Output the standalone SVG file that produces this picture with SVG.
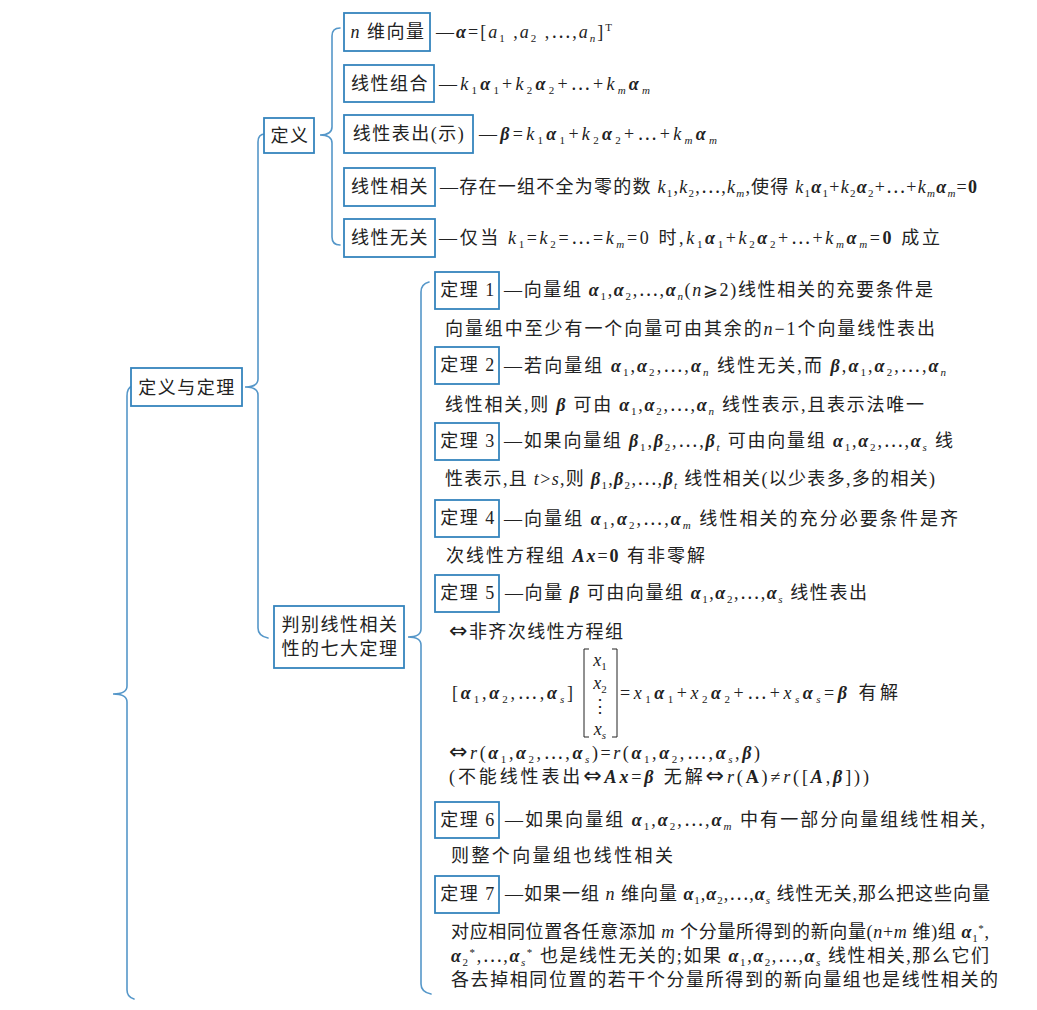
<svg xmlns="http://www.w3.org/2000/svg" width="1037" height="1010" viewBox="0 0 1037 1010">
<style>
.bg{fill:#ffffff}
.box{fill:#ffffff;stroke:#3584bd;stroke-width:1.8}
.br{fill:none;stroke:#5597c9;stroke-width:1.6;stroke-linecap:round}
.t{font-family:"Liberation Serif","Noto Sans CJK SC",serif;font-size:18px;fill:#222}
.lb{font-family:"Liberation Serif","Noto Sans CJK SC",serif;font-size:18px;fill:#222;letter-spacing:1.5px;text-anchor:middle}
.i{font-style:italic}
.v{font-style:italic;font-weight:bold}
.b{font-weight:bold}
.s{font-size:11px}
.si{font-size:11px;font-style:italic}
.sy{font-family:"DejaVu Sans",sans-serif;font-size:22px}
</style>
<rect class="bg" x="0" y="0" width="1037" height="1010"/>

<g id="connectors">
<path class="br" d="M340,28 Q332,28 332,36 L332,127 Q332,135 320,135 Q332,135 332,143 L332,237 Q332,245 340,245"/>
<path class="br" d="M265,134 Q258,134 258,142 L258,379 Q258,387 245,387 Q258,387 258,395 L258,628 Q258,636 268,638"/>
<path class="br" d="M132,386 Q127,388 127,396 L127,686 Q127,694 113,694 Q127,694 127,702 L127,990 Q127,997 134,999"/>
<path class="br" d="M429,282 Q421,284 421,292 L421,629 Q421,637 408,637 Q421,637 421,645 L421,984 Q421,992 431,994"/>
</g>

<g id="node-root">
<rect class="box" x="131" y="368" width="111" height="38"/>
<text class="lb" x="187" y="394">定义与定理</text>
</g>

<g id="node-def">
<rect class="box" x="264" y="118" width="50" height="35"/>
<text class="lb" x="290" y="142">定义</text>
</g>

<g id="node-thm">
<rect class="box" x="274" y="606" width="130" height="62"/>
<text class="lb" x="340" y="631">判别线性相关</text>
<text class="lb" x="340" y="655">性的七大定理</text>
</g>

<g id="node-d1">
<rect class="box" x="344" y="13" width="86" height="38"/>
<text class="lb" x="388" y="38"><tspan class="i">n</tspan> 维向量</text>
<text class="t" x="436" y="38" textLength="176" lengthAdjust="spacing">—<tspan class="v">α</tspan>=[<tspan class="i">a</tspan><tspan class="s" dy="4">1</tspan><tspan dy="-4"> ,</tspan><tspan class="i">a</tspan><tspan class="s" dy="4">2</tspan><tspan dy="-4"> ,⋯,</tspan><tspan class="i">a</tspan><tspan class="si" dy="4">n</tspan><tspan dy="-4">]</tspan><tspan class="s" dy="-7">T</tspan></text>
</g>

<g id="node-d2">
<rect class="box" x="344" y="65" width="90" height="37"/>
<text class="lb" x="390" y="90">线性组合</text>
<text class="t" x="439" y="90" textLength="211" lengthAdjust="spacing">—<tspan class="i">k</tspan><tspan class="s" dy="4">1</tspan><tspan class="v" dy="-4">α</tspan><tspan class="s" dy="4">1</tspan><tspan dy="-4">+</tspan><tspan class="i">k</tspan><tspan class="s" dy="4">2</tspan><tspan class="v" dy="-4">α</tspan><tspan class="s" dy="4">2</tspan><tspan dy="-4">+⋯+</tspan><tspan class="i">k</tspan><tspan class="si" dy="4">m</tspan><tspan class="v" dy="-4">α</tspan><tspan class="si" dy="4">m</tspan></text>
</g>

<g id="node-d3">
<rect class="box" x="344" y="115" width="129" height="38"/>
<text class="lb" x="409" y="140">线性表出(示)</text>
<text class="t" x="479" y="140" textLength="238" lengthAdjust="spacing">—<tspan class="v">β</tspan>=<tspan class="i">k</tspan><tspan class="s" dy="4">1</tspan><tspan class="v" dy="-4">α</tspan><tspan class="s" dy="4">1</tspan><tspan dy="-4">+</tspan><tspan class="i">k</tspan><tspan class="s" dy="4">2</tspan><tspan class="v" dy="-4">α</tspan><tspan class="s" dy="4">2</tspan><tspan dy="-4">+⋯+</tspan><tspan class="i">k</tspan><tspan class="si" dy="4">m</tspan><tspan class="v" dy="-4">α</tspan><tspan class="si" dy="4">m</tspan></text>
</g>

<g id="node-d4">
<rect class="box" x="344" y="168" width="91" height="38"/>
<text class="lb" x="390" y="193">线性相关</text>
<text class="t" x="440" y="193" textLength="537" lengthAdjust="spacing">—存在一组不全为零的数 <tspan class="i">k</tspan><tspan class="s" dy="4">1</tspan><tspan dy="-4">,</tspan><tspan class="i">k</tspan><tspan class="s" dy="4">2</tspan><tspan dy="-4">,⋯,</tspan><tspan class="i">k</tspan><tspan class="si" dy="4">m</tspan><tspan dy="-4">,使得 </tspan><tspan class="i">k</tspan><tspan class="s" dy="4">1</tspan><tspan class="v" dy="-4">α</tspan><tspan class="s" dy="4">1</tspan><tspan dy="-4">+</tspan><tspan class="i">k</tspan><tspan class="s" dy="4">2</tspan><tspan class="v" dy="-4">α</tspan><tspan class="s" dy="4">2</tspan><tspan dy="-4">+⋯+</tspan><tspan class="i">k</tspan><tspan class="si" dy="4">m</tspan><tspan class="v" dy="-4">α</tspan><tspan class="si" dy="4">m</tspan><tspan dy="-4">=</tspan><tspan class="b">0</tspan></text>
</g>

<g id="node-d5">
<rect class="box" x="344" y="219" width="91" height="38"/>
<text class="lb" x="390" y="244">线性无关</text>
<text class="t" x="439" y="244" textLength="501" lengthAdjust="spacing">—仅当 <tspan class="i">k</tspan><tspan class="s" dy="4">1</tspan><tspan dy="-4">=</tspan><tspan class="i">k</tspan><tspan class="s" dy="4">2</tspan><tspan dy="-4">=⋯=</tspan><tspan class="i">k</tspan><tspan class="si" dy="4">m</tspan><tspan dy="-4">=0 时,</tspan><tspan class="i">k</tspan><tspan class="s" dy="4">1</tspan><tspan class="v" dy="-4">α</tspan><tspan class="s" dy="4">1</tspan><tspan dy="-4">+</tspan><tspan class="i">k</tspan><tspan class="s" dy="4">2</tspan><tspan class="v" dy="-4">α</tspan><tspan class="s" dy="4">2</tspan><tspan dy="-4">+⋯+</tspan><tspan class="i">k</tspan><tspan class="si" dy="4">m</tspan><tspan class="v" dy="-4">α</tspan><tspan class="si" dy="4">m</tspan><tspan dy="-4">=</tspan><tspan class="b">0</tspan> 成立</text>
</g>

<g id="node-t1">
<rect class="box" x="435" y="272" width="64" height="37"/>
<text class="lb" x="468" y="296">定理 1</text>
<text class="t" x="504" y="296" textLength="429" lengthAdjust="spacing">—向量组 <tspan class="v">α</tspan><tspan class="s" dy="4">1</tspan><tspan dy="-4">,</tspan><tspan class="v">α</tspan><tspan class="s" dy="4">2</tspan><tspan dy="-4">,⋯,</tspan><tspan class="v">α</tspan><tspan class="si" dy="4">n</tspan><tspan dy="-4">(</tspan><tspan class="i">n</tspan>⩾2)线性相关的充要条件是</text>
<text class="t" x="445" y="335" textLength="490" lengthAdjust="spacing">向量组中至少有一个向量可由其余的<tspan class="i">n</tspan>−1个向量线性表出</text>
</g>

<g id="node-t2">
<rect class="box" x="435" y="347" width="64" height="37"/>
<text class="lb" x="468" y="371">定理 2</text>
<text class="t" x="504" y="372" textLength="442" lengthAdjust="spacing">—若向量组 <tspan class="v">α</tspan><tspan class="s" dy="4">1</tspan><tspan dy="-4">,</tspan><tspan class="v">α</tspan><tspan class="s" dy="4">2</tspan><tspan dy="-4">,⋯,</tspan><tspan class="v">α</tspan><tspan class="si" dy="4">n</tspan><tspan dy="-4"> 线性无关,而 </tspan><tspan class="v">β</tspan>,<tspan class="v">α</tspan><tspan class="s" dy="4">1</tspan><tspan dy="-4">,</tspan><tspan class="v">α</tspan><tspan class="s" dy="4">2</tspan><tspan dy="-4">,⋯,</tspan><tspan class="v">α</tspan><tspan class="si" dy="4">n</tspan></text>
<text class="t" x="445" y="411" textLength="479" lengthAdjust="spacing">线性相关,则 <tspan class="v">β</tspan> 可由 <tspan class="v">α</tspan><tspan class="s" dy="4">1</tspan><tspan dy="-4">,</tspan><tspan class="v">α</tspan><tspan class="s" dy="4">2</tspan><tspan dy="-4">,⋯,</tspan><tspan class="v">α</tspan><tspan class="si" dy="4">n</tspan><tspan dy="-4"> 线性表示,且表示法唯一</tspan></text>
</g>

<g id="node-t3">
<rect class="box" x="435" y="423" width="64" height="37"/>
<text class="lb" x="468" y="447">定理 3</text>
<text class="t" x="504" y="447" textLength="449" lengthAdjust="spacing">—如果向量组 <tspan class="v">β</tspan><tspan class="s" dy="4">1</tspan><tspan dy="-4">,</tspan><tspan class="v">β</tspan><tspan class="s" dy="4">2</tspan><tspan dy="-4">,⋯,</tspan><tspan class="v">β</tspan><tspan class="si" dy="4">t</tspan><tspan dy="-4"> 可由向量组 </tspan><tspan class="v">α</tspan><tspan class="s" dy="4">1</tspan><tspan dy="-4">,</tspan><tspan class="v">α</tspan><tspan class="s" dy="4">2</tspan><tspan dy="-4">,⋯,</tspan><tspan class="v">α</tspan><tspan class="si" dy="4">s</tspan><tspan dy="-4"> 线</tspan></text>
<text class="t" x="445" y="485" textLength="490" lengthAdjust="spacing">性表示,且 <tspan class="i">t</tspan>&gt;<tspan class="i">s</tspan>,则 <tspan class="v">β</tspan><tspan class="s" dy="4">1</tspan><tspan dy="-4">,</tspan><tspan class="v">β</tspan><tspan class="s" dy="4">2</tspan><tspan dy="-4">,⋯,</tspan><tspan class="v">β</tspan><tspan class="si" dy="4">t</tspan><tspan dy="-4"> 线性相关(以少表多,多的相关)</tspan></text>
</g>

<g id="node-t4">
<rect class="box" x="435" y="500" width="64" height="37"/>
<text class="lb" x="468" y="524">定理 4</text>
<text class="t" x="504" y="525" textLength="454" lengthAdjust="spacing">—向量组 <tspan class="v">α</tspan><tspan class="s" dy="4">1</tspan><tspan dy="-4">,</tspan><tspan class="v">α</tspan><tspan class="s" dy="4">2</tspan><tspan dy="-4">,⋯,</tspan><tspan class="v">α</tspan><tspan class="si" dy="4">m</tspan><tspan dy="-4"> 线性相关的充分必要条件是齐</tspan></text>
<text class="t" x="446" y="562" textLength="259" lengthAdjust="spacing">次线性方程组 <tspan class="v">Ax</tspan>=<tspan class="b">0</tspan> 有非零解</text>
</g>

<g id="node-t5">
<rect class="box" x="435" y="575" width="64" height="37"/>
<text class="lb" x="468" y="599">定理 5</text>
<text class="t" x="505" y="599" textLength="362" lengthAdjust="spacing">—向量 <tspan class="v">β</tspan> 可由向量组 <tspan class="v">α</tspan><tspan class="s" dy="4">1</tspan><tspan dy="-4">,</tspan><tspan class="v">α</tspan><tspan class="s" dy="4">2</tspan><tspan dy="-4">,⋯,</tspan><tspan class="v">α</tspan><tspan class="si" dy="4">s</tspan><tspan dy="-4"> 线性表出</tspan></text>
<text class="t" x="449" y="638" textLength="174" lengthAdjust="spacing"><tspan class="sy">⇔</tspan>非齐次线性方程组</text>
<text class="t" x="452" y="699" textLength="121" lengthAdjust="spacing">[<tspan class="v">α</tspan><tspan class="s" dy="4">1</tspan><tspan dy="-4">,</tspan><tspan class="v">α</tspan><tspan class="s" dy="4">2</tspan><tspan dy="-4">,⋯,</tspan><tspan class="v">α</tspan><tspan class="si" dy="4">s</tspan><tspan dy="-4">]</tspan></text>
<path d="M589,649 H584 V737 H589 M612,649 H617 V737 H612" fill="none" stroke="#222" stroke-width="1"/>
<text class="t" x="600" y="666" text-anchor="middle"><tspan class="i">x</tspan><tspan class="s" dy="4">1</tspan></text>
<text class="t" x="600" y="689" text-anchor="middle"><tspan class="i">x</tspan><tspan class="s" dy="4">2</tspan></text>
<text class="t" x="600" y="712" text-anchor="middle">⋮</text>
<text class="t" x="600" y="735" text-anchor="middle"><tspan class="i">x</tspan><tspan class="si" dy="4">s</tspan></text>
<text class="t" x="620" y="699" textLength="278" lengthAdjust="spacing">=<tspan class="i">x</tspan><tspan class="s" dy="4">1</tspan><tspan class="v" dy="-4">α</tspan><tspan class="s" dy="4">1</tspan><tspan dy="-4">+</tspan><tspan class="i">x</tspan><tspan class="s" dy="4">2</tspan><tspan class="v" dy="-4">α</tspan><tspan class="s" dy="4">2</tspan><tspan dy="-4">+⋯+</tspan><tspan class="i">x</tspan><tspan class="si" dy="4">s</tspan><tspan class="v" dy="-4">α</tspan><tspan class="si" dy="4">s</tspan><tspan dy="-4">=</tspan><tspan class="v">β</tspan> 有解</text>
<text class="t" x="449" y="759" textLength="311" lengthAdjust="spacing"><tspan class="sy">⇔</tspan><tspan class="i">r</tspan>(<tspan class="v">α</tspan><tspan class="s" dy="4">1</tspan><tspan dy="-4">,</tspan><tspan class="v">α</tspan><tspan class="s" dy="4">2</tspan><tspan dy="-4">,⋯,</tspan><tspan class="v">α</tspan><tspan class="si" dy="4">s</tspan><tspan dy="-4">)=</tspan><tspan class="i">r</tspan>(<tspan class="v">α</tspan><tspan class="s" dy="4">1</tspan><tspan dy="-4">,</tspan><tspan class="v">α</tspan><tspan class="s" dy="4">2</tspan><tspan dy="-4">,⋯,</tspan><tspan class="v">α</tspan><tspan class="si" dy="4">s</tspan><tspan dy="-4">,</tspan><tspan class="v">β</tspan>)</text>
<text class="t" x="449" y="783" textLength="420" lengthAdjust="spacing">(不能线性表出<tspan class="sy">⇔</tspan><tspan class="v">Ax</tspan>=<tspan class="v">β</tspan> 无解<tspan class="sy">⇔</tspan><tspan class="i">r</tspan>(<tspan class="b">A</tspan>)≠<tspan class="i">r</tspan>([<tspan class="v">A</tspan>,<tspan class="v">β</tspan>]))</text>
</g>

<g id="node-t6">
<rect class="box" x="435" y="802" width="64" height="36"/>
<text class="lb" x="468" y="826">定理 6</text>
<text class="t" x="505" y="826" textLength="480" lengthAdjust="spacing">—如果向量组 <tspan class="v">α</tspan><tspan class="s" dy="4">1</tspan><tspan dy="-4">,</tspan><tspan class="v">α</tspan><tspan class="s" dy="4">2</tspan><tspan dy="-4">,⋯,</tspan><tspan class="v">α</tspan><tspan class="si" dy="4">m</tspan><tspan dy="-4"> 中有一部分向量组线性相关,</tspan></text>
<text class="t" x="451" y="862" textLength="222" lengthAdjust="spacing">则整个向量组也线性相关</text>
</g>

<g id="node-t7">
<rect class="box" x="435" y="876" width="64" height="37"/>
<text class="lb" x="468" y="900">定理 7</text>
<text class="t" x="505" y="900" textLength="485" lengthAdjust="spacing">—如果一组 <tspan class="i">n</tspan> 维向量 <tspan class="v">α</tspan><tspan class="s" dy="4">1</tspan><tspan dy="-4">,</tspan><tspan class="v">α</tspan><tspan class="s" dy="4">2</tspan><tspan dy="-4">,⋯,</tspan><tspan class="v">α</tspan><tspan class="si" dy="4">s</tspan><tspan dy="-4"> 线性无关,那么把这些向量</tspan></text>
<text class="t" x="451" y="938" textLength="538" lengthAdjust="spacing">对应相同位置各任意添加 <tspan class="i">m</tspan> 个分量所得到的新向量(<tspan class="i">n</tspan>+<tspan class="i">m</tspan> 维)组 <tspan class="v">α</tspan><tspan class="s" dy="4">1</tspan><tspan class="s" dy="-10">*</tspan><tspan dy="6">,</tspan></text>
<text class="t" x="451" y="962" textLength="538" lengthAdjust="spacing"><tspan class="v">α</tspan><tspan class="s" dy="4">2</tspan><tspan class="s" dy="-10">*</tspan><tspan dy="6">,⋯,</tspan><tspan class="v">α</tspan><tspan class="si" dy="4">s</tspan><tspan class="s" dy="-10">*</tspan><tspan dy="6"> 也是线性无关的;如果 </tspan><tspan class="v">α</tspan><tspan class="s" dy="4">1</tspan><tspan dy="-4">,</tspan><tspan class="v">α</tspan><tspan class="s" dy="4">2</tspan><tspan dy="-4">,⋯,</tspan><tspan class="v">α</tspan><tspan class="si" dy="4">s</tspan><tspan dy="-4"> 线性相关,那么它们</tspan></text>
<text class="t" x="451" y="986" textLength="547" lengthAdjust="spacing">各去掉相同位置的若干个分量所得到的新向量组也是线性相关的</text>
</g>
</svg>
